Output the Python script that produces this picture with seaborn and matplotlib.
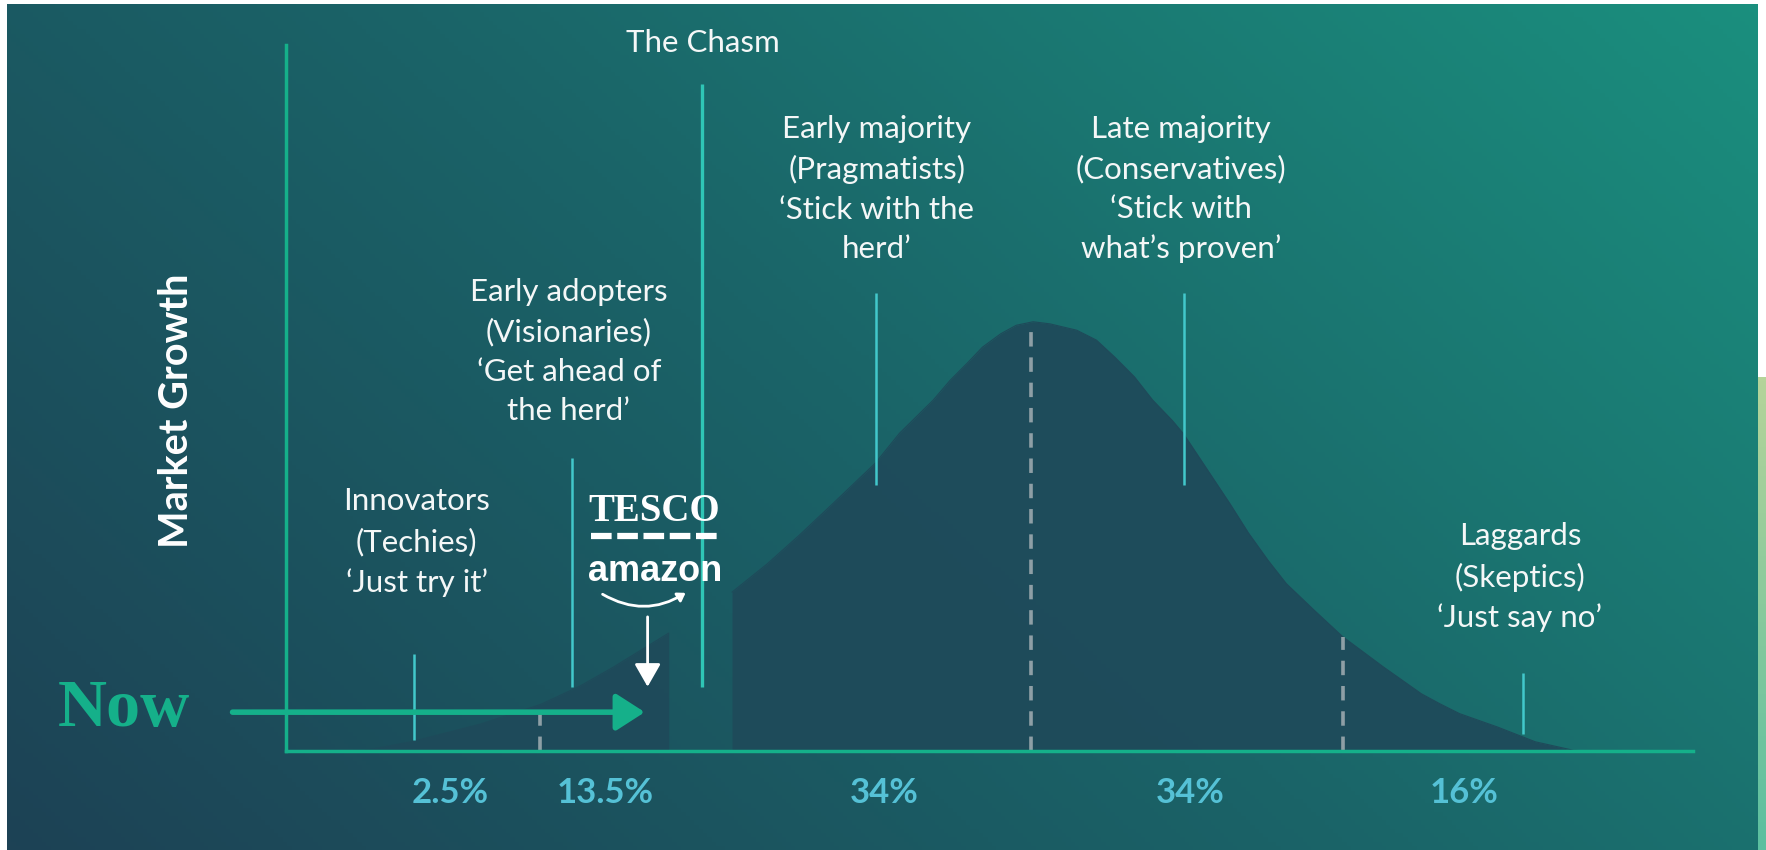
import numpy as np
import pandas as pd
import seaborn as sns
import matplotlib.pyplot as plt
from matplotlib.colors import LinearSegmentedColormap

# bell curve: x = position along the adoption axis (0-100),
# y = market growth (0-100); the curve is cut by the chasm between the two edges
curve_x = [5.5, 9.1, 13.8, 18.1, 20.9, 23.2, 27.2, 31.7, 34.2, 36.5, 38.9, 41.9, 43.6, 46.0,
           47.2, 48.4, 49.5, 50.8, 51.9, 53.1, 54.3, 56.2, 57.6, 58.9, 60.3, 61.6, 63.0, 63.8,
           65.7, 67.1, 68.4, 69.8, 71.1, 73.1, 75.1, 78.0, 80.7, 82.0, 83.4, 86.1, 88.8, 91.5, 92.7]
curve_y = [0.0, 1.4, 3.8, 6.6, 9.2, 11.8, 16.7, 22.5, 26.5, 30.6, 35.1, 40.8, 45.0, 49.7,
           52.5, 54.9, 57.2, 59.1, 60.3, 60.8, 60.5, 59.6, 58.2, 55.8, 53.0, 49.7, 46.8, 44.9,
           39.2, 35.0, 30.9, 27.0, 23.7, 19.9, 16.2, 11.9, 8.1, 6.7, 5.3, 3.4, 1.3, 0.1, 0.0]
chasm_edges = [27.2, 31.7]

groups = ['Innovators', 'Early adopters', 'Early majority', 'Late majority', 'Laggards']
group_labels = [
    'Innovators\n(Techies)\n\u2018Just try it\u2019',
    'Early adopters\n(Visionaries)\n\u2018Get ahead of\nthe herd\u2019',
    'Early majority\n(Pragmatists)\n\u2018Stick with the\nherd\u2019',
    'Late majority\n(Conservatives)\n\u2018Stick with\nwhat\u2019s proven\u2019',
    'Laggards\n(Skeptics)\n\u2018Just say no\u2019',
]
shares = [2.5, 13.5, 34, 34, 16]

# group marker lines (x, bottom, top) and dashed dividers (x, curve height)
marker_x = [9.1, 20.3, 41.9, 63.8, 87.9]
marker_lo = [1.6, 9.1, 37.7, 37.7, 2.4]
marker_hi = [13.7, 41.5, 64.9, 64.9, 11.1]
divider_x = [18.05, 52.95, 75.1]
divider_top = [6.6, 60.8, 16.2]
chasm_line = [29.6, 9.1, 94.5]

# layout (data units of the main axes)
label_pos = [(9.3, 29.6), (20.1, 56.6), (42.0, 79.6), (63.6, 79.6), (87.7, 24.6)]
share_x = [11.7, 22.7, 42.5, 64.3, 83.7]

W, H = 1766, 850
sns.set_theme(style='white')
plt.rcParams['font.family'] = ['Lato', 'DejaVu Sans']

GREEN = '#15b08a'
CYAN = '#42c8cb'
TEXT = '#f4f7f7'

fig = plt.figure(figsize=(W / 100, H / 100), dpi=100, facecolor='white')

# gradient background
bg = fig.add_axes([7 / W, 0, (1758 - 7) / W, 1 - 4 / H], zorder=0)
U, V = np.meshgrid(np.linspace(0, 1, 400), np.linspace(0, 1, 200))
cmap = LinearSegmentedColormap.from_list('bg', ['#1d4255', '#1a6468', '#1a8f7e'])
bg.imshow(0.65 * U + 0.35 * V, cmap=cmap, origin='lower', aspect='auto', extent=[0, 1, 0, 1])
bg.axis('off')

strip = fig.add_axes([1758 / W, 0, 8 / W, (850 - 377) / H], zorder=0)
strip.imshow(np.linspace(0, 1, 100)[:, None], origin='lower', aspect='auto',
             cmap=LinearSegmentedColormap.from_list('s', ['#5bbfa0', '#b5d49a']))
strip.axis('off')

ax = fig.add_axes([286 / W, 1 - 751 / H, (1693 - 286) / W, (751 - 45) / H], zorder=1)
ax.patch.set_alpha(0)
ax.set_xlim(0, 100)
ax.set_ylim(0, 100)

curve = pd.DataFrame({'x': curve_x, 'y': curve_y})
curve['part'] = np.where(curve['x'] <= chasm_edges[0], 'left', 'right')
fill_col = '#1f4a5a'
for part, d in curve.groupby('part'):
    ax.fill_between(d['x'], 0, d['y'], color=fill_col, alpha=0.92, lw=0, zorder=1)
sns.lineplot(data=curve, x='x', y='y', units='part', estimator=None, color=fill_col,
             lw=0.8, ax=ax, zorder=1)

for x, top in zip(divider_x, divider_top):
    ax.plot([x, x], [0, top], color='#a3afb4', lw=2.6, ls=(0, (4, 3)), alpha=0.85, zorder=2)

for x, lo, hi in zip(marker_x, marker_lo, marker_hi):
    ax.plot([x, x], [lo, hi], color=CYAN, lw=1.8, zorder=3, solid_capstyle='butt')
ax.plot([chasm_line[0]] * 2, chasm_line[1:], color='#2fc6b6', lw=2.4, zorder=3,
        solid_capstyle='butt')

for (x, y), lab in zip(label_pos, group_labels):
    ax.text(x, y, lab, ha='center', va='center', color=TEXT, fontsize=22.5,
            fontweight='normal', linespacing=1.5, multialignment='center')
ax.text(chasm_line[0], 100.3, 'The Chasm', ha='center', va='center', color=TEXT,
        fontsize=22.5, fontweight='normal')

for x, s in zip(share_x, shares):
    ax.text(x, -5.9, f'{s:g}%', ha='center', va='center', color='#55c1d6',
            fontsize=25, fontweight='bold')

ax.text(-7.8, 48.2, 'Market Growth', rotation=90, ha='center', va='center', color='white',
        fontsize=28.5, fontweight='bold')

# "Now" arrow
ax.text(-11.5, 3.5, 'Now', ha='center', va='baseline', color=GREEN, fontsize=49,
        fontweight='bold', family=['Liberation Serif', 'DejaVu Serif'])
ax.annotate('', xy=(25.5, 5.5), xytext=(-3.8, 5.5), annotation_clip=False,
            arrowprops=dict(arrowstyle='-|>,head_length=0.7,head_width=0.45', color=GREEN,
                            lw=4, shrinkA=0, shrinkB=0, mutation_scale=25), zorder=4)

# retailer logos and arrow
ax.text(26.2, 33.9, 'TESCO', ha='center', va='center', color='white', fontsize=28,
        fontweight='bold', family=['Liberation Serif', 'DejaVu Serif'])
ax.plot([21.7, 30.8], [30.4, 30.4], color='white', lw=4.5, ls=(0, (3.3, 0.9)),
        solid_capstyle='butt', zorder=4)
ax.text(26.2, 25.4, 'amazon', ha='center', va='center', color='white', fontsize=26,
        fontweight='bold', family=['Liberation Sans Narrow', 'Liberation Sans', 'DejaVu Sans'])
ax.annotate('', xy=(28.4, 22.4), xytext=(22.5, 22.2), annotation_clip=False,
            arrowprops=dict(arrowstyle='-|>,head_length=0.3,head_width=0.2', color='white',
                            lw=2, shrinkA=0, shrinkB=0, connectionstyle='arc3,rad=0.3',
                            mutation_scale=15))
ax.annotate('', xy=(25.7, 9.1), xytext=(25.7, 19.0), annotation_clip=False,
            arrowprops=dict(arrowstyle='-|>,head_length=0.7,head_width=0.4', color='white',
                            lw=2, shrinkA=0, shrinkB=0, mutation_scale=20))

for side in ['top', 'right']:
    ax.spines[side].set_visible(False)
for side in ['left', 'bottom']:
    ax.spines[side].set_color(GREEN)
    ax.spines[side].set_linewidth(2.5)
ax.set_xticks([])
ax.set_yticks([])
ax.set_xlabel('')
ax.set_ylabel('')

fig.savefig('out.png', dpi=100, facecolor='white')
